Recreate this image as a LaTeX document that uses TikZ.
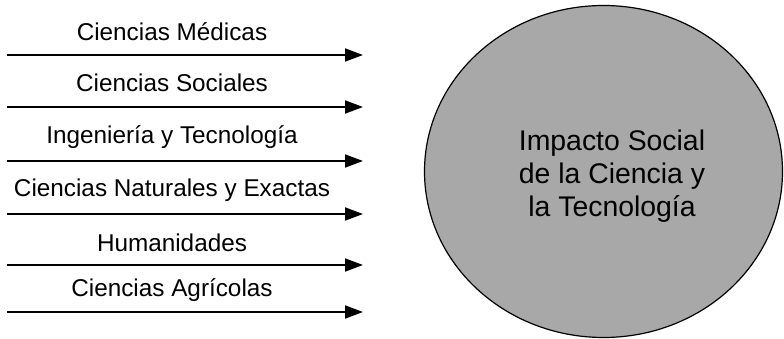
\documentclass[tikz,border=0pt]{standalone}
\usepackage{fontspec}
\setmainfont{Liberation Sans}
\usetikzlibrary{arrows.meta,shapes.geometric}
\definecolor{circfill}{RGB}{168,168,168}
\begin{document}
\begin{tikzpicture}[x=1pt,y=-1pt,
  flow/.style={line width=1.8pt,-{Triangle[length=18pt,width=13pt]}},
  lbl/.style={font=\fontsize{24.3}{28}\selectfont,inner sep=0pt},
  bigtext/.style={font=\fontsize{28.4}{33}\selectfont,align=center,inner sep=0pt}]
\useasboundingbox (0,0) rectangle (784,339);
\node[draw=black,line width=1.2pt,fill=circfill,ellipse,minimum width=358pt,minimum height=332pt,inner sep=0pt] (c) at (603.5,171.5) {};
\node[bigtext] (ct) at (612,176) {Impacto Social\\de la Ciencia y\\la Tecnología};
\foreach \i/\t/\ly/\ay in {1/Ciencias Médicas/32/55,2/Ciencias Sociales/83/107,3/Ingeniería y Tecnología/137/161,4/Ciencias Naturales y Exactas/190/214,5/Humanidades/243/265,6/Ciencias Agrícolas/290/312}{
  \node[lbl] (l\i) at (172,\ly) {\t};
  \coordinate (s\i) at (7,\ay);
  \coordinate (e\i) at (363,\ay);
  \draw[flow] (s\i) -- (e\i);
}
\end{tikzpicture}
\end{document}
